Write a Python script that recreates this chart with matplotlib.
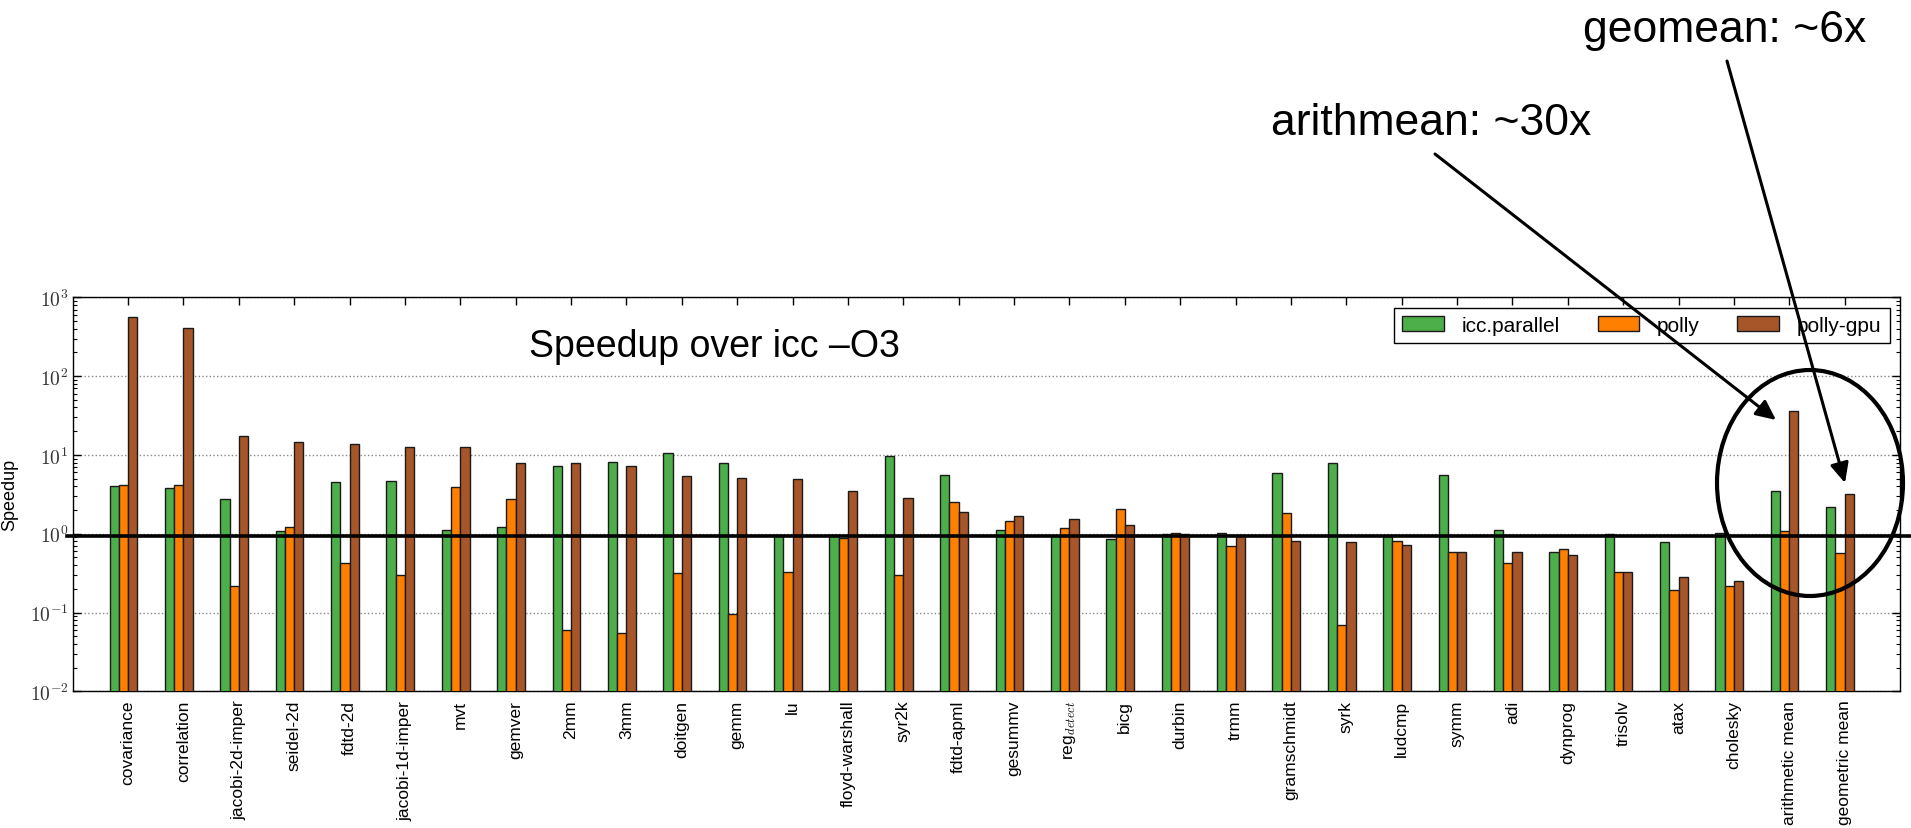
import matplotlib
matplotlib.use('Agg')
import matplotlib.pyplot as plt
import numpy as np
from matplotlib.patches import Ellipse, FancyArrowPatch
from matplotlib.lines import Line2D
from matplotlib.ticker import FuncFormatter, NullLocator

# ---------------- data ----------------
categories = ['covariance', 'correlation', 'jacobi-2d-imper', 'seidel-2d', 'fdtd-2d',
              'jacobi-1d-imper', 'mvt', 'gemver', '2mm', '3mm', 'doitgen', 'gemm', 'lu',
              'floyd-warshall', 'syr2k', 'fdtd-apml', 'gesummv', r'reg$_{detect}$', 'bicg',
              'durbin', 'trmm', 'gramschmidt', 'syrk', 'ludcmp', 'symm', 'adi', 'dynprog',
              'trisolv', 'atax', 'cholesky', 'arithmetic mean', 'geometric mean']
icc_parallel = [3.99, 3.84, 2.73, 1.07, 4.57, 4.71, 1.12, 1.22, 7.15, 8.12, 10.45, 7.88, 0.96,
                0.97, 9.58, 5.5, 1.10, 0.94, 0.855, 1.0, 1.02, 5.83, 7.88, 0.93, 5.5, 1.11,
                0.591, 0.99, 0.79, 1.02, 3.48, 2.18]
polly = [4.15, 4.15, 0.215, 1.22, 0.42, 0.30, 3.95, 2.75, 0.060, 0.055, 0.314, 0.0957, 0.323,
         0.88, 0.30, 2.5, 1.43, 1.17, 2.04, 1.02, 0.70, 1.83, 0.070, 0.815, 0.591, 0.428,
         0.638, 0.323, 0.193, 0.219, 1.09, 0.568]
polly_gpu = [567, 407, 17.5, 14.7, 13.7, 12.5, 12.5, 7.81, 7.81, 7.22, 5.34, 5.08, 4.94, 3.48,
             2.84, 1.87, 1.69, 1.52, 1.30, 0.99, 0.97, 0.807, 0.784, 0.725, 0.591, 0.591,
             0.541, 0.323, 0.285, 0.253, 35.7, 3.19]
series_labels = ['icc.parallel', 'polly', 'polly-gpu']
series_colors = ['#4daf4a', '#ff7f00', '#a65628']
title_text = 'Speedup over icc \u2013O3'
note_arith = 'arithmean: ~30x'
note_geo = 'geomean: ~6x'

# ---------------- style ----------------
plt.rcParams['font.family'] = ['Liberation Sans', 'DejaVu Sans']
plt.rcParams['mathtext.fontset'] = 'cm'

W, H = 1911, 829
fig = plt.figure(figsize=(W / 100, H / 100), dpi=100)
L, R, T, B = 72.7, 1900, 298.3, 692.3
ax = fig.add_axes([L / W, 1 - B / H, (R - L) / W, (B - T) / H])
ax.set_yscale('log')

x = np.arange(len(categories))
w = 1 / 6
for i, (vals, lab, c) in enumerate(zip([icc_parallel, polly, polly_gpu], series_labels, series_colors)):
    ax.bar(x + (i - 2) * w, vals, width=w, align='edge', color=c, edgecolor='#1a1a1a',
           linewidth=1.0, label=lab, zorder=3)

ax.set_xlim(-1, 32)
ax.set_ylim(1e-2, 1e3)
ax.set_xticks(x)
ax.set_xticklabels(categories, rotation=90, fontsize=12.5, va='top')
ax.xaxis.set_minor_locator(NullLocator())
ax.yaxis.set_major_formatter(FuncFormatter(lambda v, p: r'$10^{%d}$' % int(round(np.log10(v)))))
ax.tick_params(axis='y', which='major', labelsize=14, labelcolor='#333333', pad=3)
ax.tick_params(which='both', direction='in', top=True, right=True)
ax.tick_params(which='major', length=6, width=1)
ax.tick_params(which='minor', length=3, width=0.8)
ax.tick_params(axis='x', pad=6)
ax.yaxis.grid(True, which='major', linestyle=':', color='#888888', linewidth=1)
ax.set_axisbelow(True)
for s in ax.spines.values():
    s.set_linewidth(1.0)
ax.set_ylabel('Speedup', fontsize=13)
ax.yaxis.set_label_coords((18 - L) / (R - L), 0.5)

ax.legend(loc='upper right', ncol=3, fontsize=15, handlelength=2.0, handletextpad=0.85,
          columnspacing=1.8, fancybox=False, edgecolor='black', framealpha=1,
          borderaxespad=0.5)

# ---------------- overlays ----------------
def px(xp, yp):
    return (xp / W, 1 - yp / H)

fig.text(*px(529, 347), title_text, fontsize=27, va='center', ha='left')
fig.text(*px(1431, 135), note_arith, fontsize=32, va='baseline', ha='center')
fig.text(*px(1725, 42), note_geo, fontsize=32, va='baseline', ha='center')

fig.add_artist(Line2D([67 / W, 1.0], [1 - 537 / H] * 2, transform=fig.transFigure,
                      color='black', linewidth=2.6, zorder=10))
fig.add_artist(Ellipse(px(1810, 484), 186 / W, 226 / H, transform=fig.transFigure,
                       fill=False, edgecolor='black', linewidth=3, zorder=10))
for a, b in [((1435, 155), (1776, 421)), ((1727, 62), (1845, 484))]:
    fig.add_artist(FancyArrowPatch(px(*a), px(*b), transform=fig.transFigure,
                                   arrowstyle='-|>,head_length=0.6,head_width=0.28',
                                   mutation_scale=20, color='black', linewidth=2.2,
                                   shrinkA=0, shrinkB=0, zorder=10))

fig.savefig('out.png', dpi=100)
